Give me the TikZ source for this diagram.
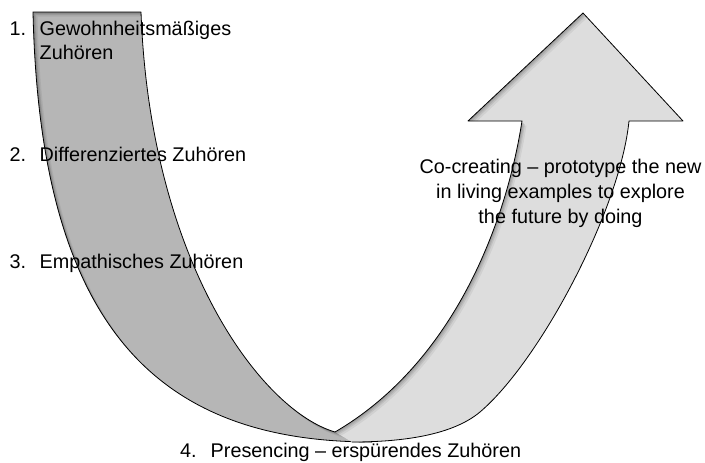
\documentclass[tikz,border=0pt]{standalone}
\usepackage{fontspec}
\setmainfont{Liberation Sans}
\definecolor{darkband}{RGB}{182,182,182}
\definecolor{lightband}{RGB}{221,221,221}
\def\darkpath{(33,12) -- (141,12) .. controls (150,260) and (260,410) .. (335,432) -- (372,442) .. controls (160,442) and (40,330) .. (33,12) -- cycle}
\def\lightpath{(335,432) .. controls (450,365) and (505,230) .. (522,121) -- (468,121) -- (583,13) -- (683,121) -- (629,121) .. controls (620,210) and (540,361) .. (480,412) .. controls (455,433) and (410,442) .. (352,442) -- cycle}
\tikzset{
  edge/.style={draw=black, line width=0.8pt, line join=round},
  lbl/.style={anchor=base west, inner sep=0pt, font=\fontsize{19.8}{24}\selectfont},
  rlbl/.style={anchor=base, inner sep=0pt, font=\fontsize{19.8}{24}\selectfont}
}
\begin{document}
\begin{tikzpicture}[x=1pt,y=-1pt]
\useasboundingbox (0,0) rectangle (705,463);
% dark band
\fill[darkband] \darkpath;
\begin{scope}
  \clip \darkpath;
  \foreach \d/\o in {1/0.10,2/0.09,3/0.08,4.5/0.06} {
    \begin{scope}[shift={(\d,\d)}]
      \fill[black, opacity=\o, even odd rule] (-40,-40) rectangle (760,520) \darkpath;
    \end{scope}
  }
\end{scope}
\draw[edge] (335,432) .. controls (260,410) and (150,260) .. (141,12) -- (33,12) .. controls (40,330) and (160,442) .. (372,442);
% light band with arrow head
\fill[lightband] \lightpath;
\begin{scope}
  \clip \lightpath;
  \foreach \d/\o in {1/0.10,2/0.09,3/0.08,4.5/0.06} {
    \begin{scope}[shift={(\d,\d)}]
      \fill[black, opacity=\o, even odd rule] (-40,-40) rectangle (760,520) \lightpath;
    \end{scope}
  }
\end{scope}
\draw[edge] (335,432) .. controls (450,365) and (505,230) .. (522,121) -- (468,121) -- (583,13) -- (683,121) -- (629,121) .. controls (620,210) and (540,361) .. (480,412) .. controls (455,433) and (410,442) .. (352,442);
% labels
\node[lbl] (n1) at (9.5,35) {1.};
\node[lbl] (t1) at (39.5,35) {Gewohnheitsmäßiges};
\node[lbl] (t1b) at (39.5,59) {Zuhören};
\node[lbl] (n2) at (9.5,161.7) {2.};
\node[lbl] (t2) at (39.5,161.7) {Differenziertes Zuhören};
\node[lbl] (n3) at (9.5,268) {3.};
\node[lbl] (t3) at (39.5,268) {Empathisches Zuhören};
\node[lbl] (n4) at (180,457.7) {4.};
\node[lbl] (t4) at (210.5,457.7) {Presencing – erspürendes Zuhören};
\node[rlbl] (r1) at (560.5,173) {Co-creating – prototype the new};
\node[rlbl] (r2) at (560.5,198) {in living examples to explore};
\node[rlbl] (r3) at (560.5,223) {the future by doing};
\end{tikzpicture}
\end{document}
